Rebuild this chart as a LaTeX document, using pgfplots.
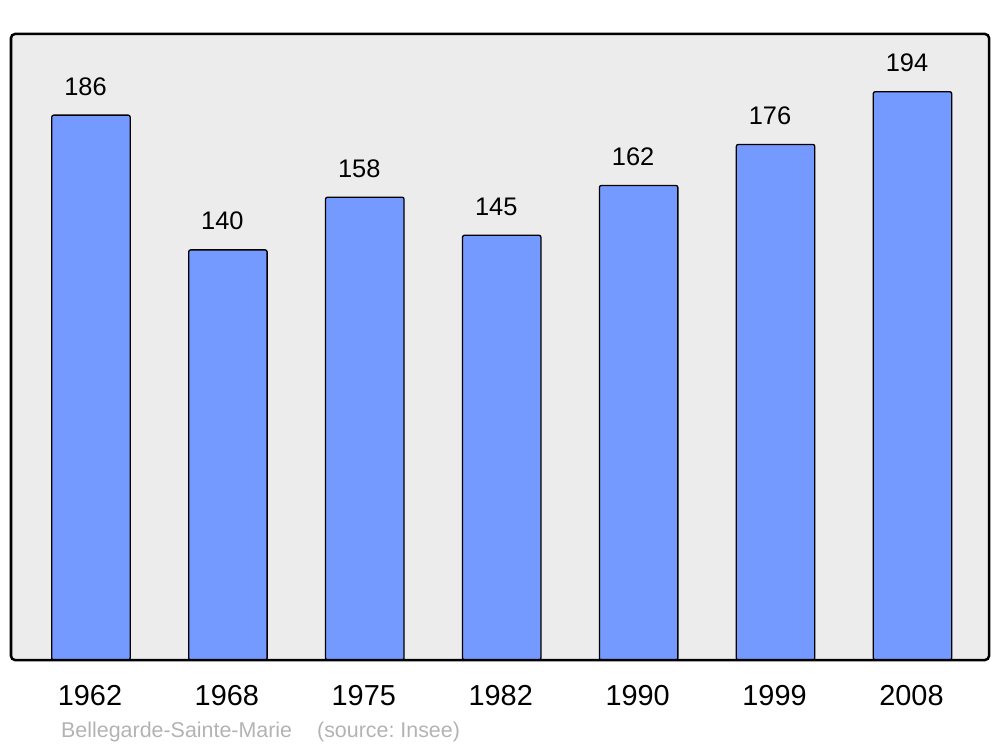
\documentclass[border=0pt]{standalone}
\usepackage{pgfplots}
\pgfplotsset{compat=1.18}
\usepackage{fontspec}
\setmainfont{Liberation Sans}
\definecolor{bgc}{HTML}{ECECEC}
\definecolor{barc}{HTML}{7499FF}
\definecolor{capc}{HTML}{B3B3B3}
\frenchspacing
\begin{document}
\begin{tikzpicture}
\begin{axis}[
  scale only axis,
  width=978bp, height=626bp,
  xmin=-0.584, xmax=6.559,
  ymin=0, ymax=213.7,
  axis line style={draw=none},
  axis background/.style={fill=bgc, rounded corners=4bp},
  xtick={0,1,2,3,4,5,6},
  xticklabels={1962,1968,1975,1982,1990,1999,2008},
  ytick=\empty,
  major tick length=0pt,
  xticklabel style={font=\fontsize{29}{32}\selectfont, anchor=north, inner sep=0pt, yshift=-25bp, xshift=-1bp},
  /pgf/number format/assume math mode=true,
  clip=false,
]
\addplot[ybar, bar width=0.573, fill=barc, draw=black, line width=1.3bp, rounded corners=2bp,
  nodes near coords,
  every node near coord/.append style={font=\fontsize{25.5}{28}\selectfont, anchor=south, inner sep=0pt, yshift=19bp, xshift=-5.5bp, black}]
  coordinates {(0,186) (1,140) (2,158) (3,145) (4,162) (5,176) (6,194)};
\draw[black, line width=2.5bp, rounded corners=4bp] (rel axis cs:0,0) rectangle (rel axis cs:1,1);
\end{axis}
\node[anchor=base west, inner sep=0pt, text=capc, font=\fontsize{21.5}{24}\selectfont]
  at ([xshift=50bp, yshift=-77bp]current axis.south west) {Bellegarde-Sainte-Marie\hspace{25bp}(source: Insee)};
\path ([xshift=-11bp, yshift=-87bp]current axis.south west) rectangle ([xshift=11bp, yshift=34bp]current axis.north east);
\end{tikzpicture}
\end{document}
